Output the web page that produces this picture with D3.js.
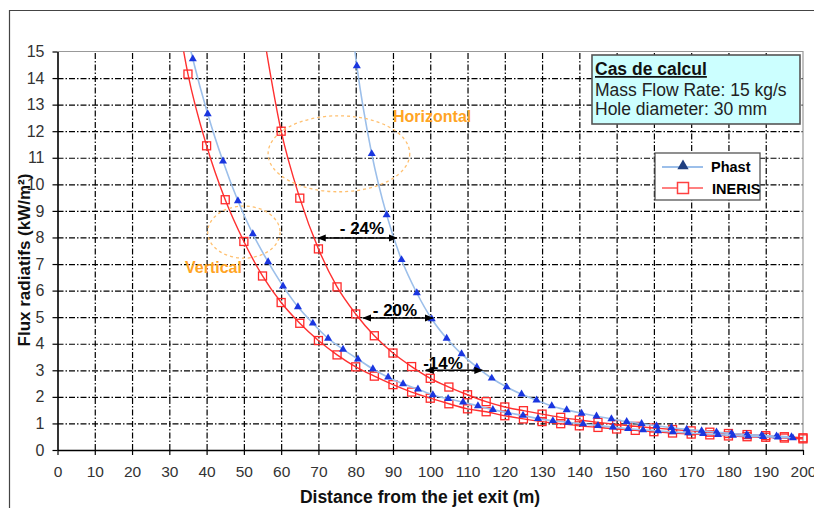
<!DOCTYPE html>
<html>
<head>
<meta charset="utf-8">
<script src="https://cdn.jsdelivr.net/npm/d3@7"></script>
<style>
body{margin:0;background:#fff;}
svg{font-family:"Liberation Sans",Arial,sans-serif;}
.grid line{stroke:#000;stroke-dasharray:6,2,1.5,2;stroke-width:1.2;}
.grid path{display:none;}
</style>
</head>
<body>
<svg id="chart" width="814" height="508"></svg>
<script>
// tick values
var xTicks = d3.range(0, 201, 10);
var yTicks = d3.range(0, 16, 1);

// Phast - vertical release
var phastVertX = [32.3,36.3,40.3,44.4,48.4,52.4,56.5,60.5,64.5,68.5,72.6,76.6,80.6,84.6,88.7,92.7,96.7,100.7,104.8,108.8,112.8,116.8,120.9,124.9,128.9,132.9,137.0,141.0,145.0,149.0,153.1,157.1,161.1,165.1,169.2,173.2,177.2,181.2,185.3,189.3,193.3,197.3];
var phastVertY = [17.2,14.72,12.65,10.87,9.38,8.13,7.08,6.17,5.39,4.77,4.2,3.79,3.42,3.05,2.74,2.49,2.29,2.07,1.93,1.8,1.66,1.52,1.4,1.3,1.18,1.1,1.04,0.98,0.92,0.86,0.8,0.76,0.72,0.68,0.64,0.61,0.58,0.55,0.52,0.5,0.48,0.45];

// Phast - horizontal release
var phastHorX = [76.3,80.3,84.3,88.3,92.3,96.4,100.4,104.4,108.4,112.5,116.5,120.5,124.5,128.5,132.6,136.6,140.6,144.6,148.6,152.7,156.7,160.7,164.7,168.8,172.8,176.8,180.8,184.9,188.9,192.9,196.9];
var phastHorY = [19.5,14.46,11.15,8.85,7.16,5.91,4.93,4.2,3.62,3.12,2.7,2.37,2.1,1.88,1.66,1.51,1.38,1.27,1.17,1.07,0.99,0.91,0.84,0.78,0.72,0.67,0.62,0.58,0.55,0.52,0.49];

// INERIS - vertical release
var inerisVertX = d3.range(30, 201, 5);
var inerisVertY = [18.3,14.15,11.45,9.42,7.85,6.55,5.55,4.77,4.12,3.58,3.13,2.78,2.46,2.18,1.95,1.74,1.55,1.44,1.29,1.17,1.07,0.99,0.91,0.85,0.79,0.74,0.69,0.64,0.6,0.57,0.53,0.5,0.48,0.45,0.42];

// INERIS - horizontal release
var inerisHorX = d3.range(55, 201, 5);
var inerisHorY = [15.9,12.0,9.48,7.57,6.14,5.12,4.3,3.65,3.14,2.7,2.37,2.08,1.82,1.62,1.48,1.35,1.23,1.13,1.04,0.96,0.89,0.83,0.77,0.72,0.67,0.62,0.58,0.54,0.5,0.46];

var svg = d3.select("#chart");
var plotL = 57.5, plotR = 803, plotT = 51.5, plotB = 450;

var x = d3.scaleLinear().domain([0, 200]).range([plotL, plotR]);
var y = d3.scaleLinear().domain([0, 15]).range([plotB, plotT]);

svg.append("rect").attr("width", 814).attr("height", 508).attr("fill", "#fff");

// outer chart frame
svg.append("path").attr("d", "M9.5,508 L9.5,10.5 L814,10.5")
  .attr("fill", "none").attr("stroke", "#444").attr("stroke-width", 1.2);

// grid
svg.append("g").attr("class", "grid")
  .attr("transform", "translate(0," + plotB + ")")
  .call(d3.axisBottom(x).tickValues(xTicks.slice(1, -1)).tickSize(-(plotB - plotT)).tickFormat(""));
svg.append("g").attr("class", "grid")
  .attr("transform", "translate(" + plotL + ",0)")
  .call(d3.axisLeft(y).tickValues(yTicks.slice(1, -1)).tickSize(-(plotR - plotL)).tickFormat(""));

// plot border top/right
svg.append("path").attr("d", "M" + plotL + "," + plotT + " L" + plotR + "," + plotT + " L" + plotR + "," + plotB)
  .attr("fill", "none").attr("stroke", "#999").attr("stroke-width", 1.2);

// axes
var xAxis = svg.append("g").attr("transform", "translate(0," + plotB + ")")
  .call(d3.axisBottom(x).tickValues(xTicks).tickSize(5).tickSizeOuter(0).tickPadding(11));
var yAxis = svg.append("g").attr("transform", "translate(" + plotL + ",0)")
  .call(d3.axisLeft(y).tickValues(yTicks).tickSize(5).tickSizeOuter(0).tickPadding(8));
[xAxis, yAxis].forEach(function(a){
  a.attr("font-family", null).attr("font-size", null);
  a.select(".domain").attr("stroke", "#000").attr("stroke-width", 1.6);
  a.selectAll(".tick line").attr("stroke", "#000").attr("stroke-width", 1.2);
  a.selectAll(".tick text").attr("fill", "#333");
});
xAxis.selectAll(".tick text").style("font-size", "15.5px");
yAxis.selectAll(".tick text").style("font-size", "16px");

// axis titles
svg.append("text").attr("x", 420).attr("y", 503).attr("text-anchor", "middle")
  .style("font-size", "17.5px").style("font-weight", "bold").attr("fill", "#111")
  .text("Distance from the jet exit (m)");
svg.append("text").attr("transform", "translate(30,260) rotate(-90)").attr("text-anchor", "middle")
  .style("font-size", "17px").style("font-weight", "bold").attr("fill", "#111")
  .text("Flux radiatifs (kW/m²)");

// clip
svg.append("clipPath").attr("id", "clip").append("rect")
  .attr("x", 0).attr("y", plotT).attr("width", 814).attr("height", 508 - plotT);

var line = d3.line().curve(d3.curveMonotoneX)
  .x(function(d){ return x(d[0]); })
  .y(function(d){ return y(d[1]); });

var plot = svg.append("g").attr("clip-path", "url(#clip)");

function series(xs, ys, kind){
  var pts = d3.zip(xs, ys);
  plot.append("path").attr("d", line(pts)).attr("fill", "none")
    .attr("stroke", kind === "phast" ? "#9cbfea" : "#ff3030")
    .attr("stroke-width", kind === "phast" ? 1.6 : 1.4);
  var g = plot.append("g");
  if (kind === "phast") {
    g.selectAll("path").data(pts).enter().append("path")
      .attr("d", d3.symbol().type(d3.symbolTriangle).size(28))
      .attr("transform", function(d){ return "translate(" + x(d[0]) + "," + y(d[1]) + ")"; })
      .attr("fill", "#1a36e0");
  } else {
    g.selectAll("rect").data(pts).enter().append("rect")
      .attr("x", function(d){ return x(d[0]) - 4; })
      .attr("y", function(d){ return y(d[1]) - 4; })
      .attr("width", 8).attr("height", 8)
      .attr("fill", "none").attr("stroke", "#ff2a2a").attr("stroke-width", 1.3);
  }
}
series(inerisHorX, inerisHorY, "ineris");
series(inerisVertX, inerisVertY, "ineris");
series(phastHorX, phastHorY, "phast");
series(phastVertX, phastVertY, "phast");

// dashed ellipses + labels
var orange = "#ffa424";
svg.append("ellipse").attr("cx", x(75.5)).attr("cy", y(11.15))
  .attr("rx", x(75.5) - x(56.5)).attr("ry", y(9.72) - y(11.15))
  .attr("fill", "none").attr("stroke", "#ffc070").attr("stroke-width", 1.3).attr("stroke-dasharray", "3,3");
svg.append("ellipse").attr("cx", x(50)).attr("cy", y(8.2))
  .attr("rx", x(59.7) - x(50)).attr("ry", y(7.22) - y(8.2))
  .attr("fill", "none").attr("stroke", "#ffc070").attr("stroke-width", 1.3).attr("stroke-dasharray", "3,3");
svg.append("text").attr("x", 393).attr("y", 122).style("font-size", "16px").style("font-weight", "bold")
  .attr("fill", orange).text("Horizontal");
svg.append("text").attr("x", 185).attr("y", 273).style("font-size", "16px").style("font-weight", "bold")
  .attr("fill", orange).text("Vertical");

// arrows
var defs = svg.append("defs");
defs.append("marker").attr("id", "ah").attr("viewBox", "0 0 10 10").attr("refX", 9).attr("refY", 5)
  .attr("markerWidth", 9).attr("markerHeight", 9).attr("markerUnits", "userSpaceOnUse")
  .attr("orient", "auto-start-reverse")
  .append("path").attr("d", "M0,1 L10,5 L0,9 z").attr("fill", "#000");

var arrowFrom = [69.8, 82, 98.8];
var arrowTo = [91, 100.7, 114];
var arrowAt = [7.98, 4.97, 3.0];
var arrowLabel = ["- 24%", "- 20%", "-14%"];
arrowFrom.forEach(function(a, i){
  svg.append("line").attr("x1", x(a)).attr("x2", x(arrowTo[i]))
    .attr("y1", y(arrowAt[i])).attr("y2", y(arrowAt[i]))
    .attr("stroke", "#000").attr("stroke-width", 1.5)
    .attr("marker-start", "url(#ah)").attr("marker-end", "url(#ah)");
});
svg.append("text").attr("x", 362).attr("y", 234).attr("text-anchor", "middle")
  .style("font-size", "17px").style("font-weight", "bold").text(arrowLabel[0]);
svg.append("text").attr("x", 395).attr("y", 316).attr("text-anchor", "middle")
  .style("font-size", "17px").style("font-weight", "bold").text(arrowLabel[1]);
svg.append("text").attr("x", 443).attr("y", 369).attr("text-anchor", "middle")
  .style("font-size", "17px").style("font-weight", "bold").text(arrowLabel[2]);

// info box
var box = svg.append("g");
box.append("rect").attr("x", 592).attr("y", 55).attr("width", 208).attr("height", 69)
  .attr("fill", "#ccffff").attr("stroke", "#555").attr("stroke-width", 1.6);
box.append("text").attr("x", 595).attr("y", 75).style("font-size", "17.5px").style("font-weight", "bold")
  .style("text-decoration", "underline").attr("fill", "#111").text("Cas de calcul");
box.append("text").attr("x", 595).attr("y", 96).style("font-size", "17.5px").attr("fill", "#222").text("Mass Flow Rate: 15 kg/s");
box.append("text").attr("x", 595).attr("y", 115).style("font-size", "17.5px").attr("fill", "#222").text("Hole diameter: 30 mm");

// legend
var lg = svg.append("g");
lg.append("rect").attr("x", 655).attr("y", 153).attr("width", 105).attr("height", 47)
  .attr("fill", "#fff").attr("stroke", "#555").attr("stroke-width", 1.3);
lg.append("line").attr("x1", 662).attr("x2", 703).attr("y1", 167).attr("y2", 167)
  .attr("stroke", "#9cbfea").attr("stroke-width", 2);
lg.append("path").attr("d", d3.symbol().type(d3.symbolTriangle).size(55))
  .attr("transform", "translate(683,166)").attr("fill", "#1f3f80");
lg.append("text").attr("x", 711).attr("y", 172).style("font-size", "14.5px").style("font-weight", "bold").text("Phast");
lg.append("line").attr("x1", 662).attr("x2", 703).attr("y1", 188).attr("y2", 188)
  .attr("stroke", "#ff8080").attr("stroke-width", 2);
lg.append("rect").attr("x", 677.5).attr("y", 182.5).attr("width", 11).attr("height", 11)
  .attr("fill", "#fff").attr("stroke", "#ff4040").attr("stroke-width", 1.5);
lg.append("text").attr("x", 712).attr("y", 194).style("font-size", "14.5px").style("font-weight", "bold").text("INERIS");
</script>
</body>
</html>
